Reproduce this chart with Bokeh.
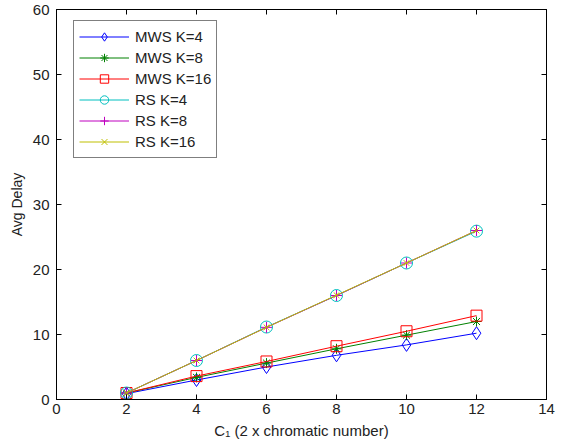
from bokeh.plotting import figure
from bokeh.models import LinearAxis, Range1d, FixedTicker, Legend, CustomJSTickFormatter
from bokeh.embed import file_html
from bokeh.resources import INLINE

# Data
x_vals = [2, 4, 6, 8, 10, 12]
mws_k4 = [0.9, 3.0, 5.0, 6.8, 8.4, 10.2]
mws_k8 = [1.0, 3.4, 5.6, 7.8, 9.9, 12.0]
mws_k16 = [1.0, 3.6, 5.85, 8.2, 10.5, 12.9]
rs_k4 = [1.0, 6.0, 11.15, 16.0, 21.0, 25.9]
rs_k8 = [1.0, 6.0, 11.1, 16.0, 21.0, 26.0]
rs_k16 = [1.0, 6.0, 11.1, 16.05, 21.0, 26.0]

series = [
    ("MWS K=4", mws_k4, "#0000ff", "diamond", 13),
    ("MWS K=8", mws_k8, "#008000", "asterisk", 10),
    ("MWS K=16", mws_k16, "#ff0000", "square", 11),
    ("RS K=4", rs_k4, "#00bfbf", "circle", 12),
    ("RS K=8", rs_k8, "#bf00bf", "cross", 11),
    ("RS K=16", rs_k16, "#bfbf00", "x", 8),
]
x_ticks = [0, 2, 4, 6, 8, 10, 12, 14]
y_ticks = [0, 10, 20, 30, 40, 50, 60]

FONT = "Liberation Sans"

p = figure(width=570, height=443, output_backend="svg", toolbar_location=None,
           x_range=Range1d(0, 14), y_range=Range1d(0, 60),
           min_border_left=56, min_border_right=24, min_border_top=9, min_border_bottom=44)
p.xgrid.visible = False
p.ygrid.visible = False
p.outline_line_color = "black"
p.outline_line_width = 1
p.background_fill_color = "white"
p.border_fill_color = "white"

for ax in p.xaxis:
    ax.ticker = FixedTicker(ticks=x_ticks)
    ax.axis_label = "C\u2081 (2 x chromatic number)"
    ax.axis_label_text_font_size = "15px"
    ax.major_label_standoff = 4
    ax.axis_label_standoff = 5
for ax in p.yaxis:
    ax.ticker = FixedTicker(ticks=y_ticks)
    ax.axis_label = "Avg Delay"
    ax.axis_label_text_font_size = "14px"
    ax.major_label_standoff = 7
    ax.axis_label_standoff = 5

for ax in list(p.xaxis) + list(p.yaxis):
    ax.major_tick_in = 5
    ax.major_tick_out = 0
    ax.minor_tick_in = 0
    ax.minor_tick_out = 0
    ax.axis_line_color = "black"
    ax.major_label_text_font = FONT
    ax.major_label_text_font_size = "15px"
    ax.major_label_text_color = "#222222"
    ax.axis_label_text_font = FONT
    ax.axis_label_text_font_style = "normal"
    ax.axis_label_text_color = "#222222"

blank = CustomJSTickFormatter(code="return '';")
top = LinearAxis(ticker=FixedTicker(ticks=x_ticks), formatter=blank,
                 major_tick_in=5, major_tick_out=0, minor_tick_in=0, minor_tick_out=0,
                 major_label_standoff=0)
right = LinearAxis(ticker=FixedTicker(ticks=y_ticks), formatter=blank,
                   major_tick_in=5, major_tick_out=0, minor_tick_in=0, minor_tick_out=0,
                   major_label_standoff=0)
p.add_layout(top, "above")
p.add_layout(right, "right")

items = []
for label, ys, color, marker, size in series:
    r1 = p.line(x_vals, ys, line_color=color, line_width=1)
    r2 = p.scatter(x_vals, ys, marker=marker, size=size, line_color=color,
                   fill_color=None, line_width=1)
    items.append((label, [r1, r2]))

legend = Legend(items=items, location=(17, 241))
legend.label_text_font = FONT
legend.label_text_font_size = "15px"
legend.label_text_color = "#222222"
legend.glyph_width = 50
legend.glyph_height = 21
legend.label_height = 21
legend.spacing = 0
legend.padding = 5
legend.margin = 0
legend.label_standoff = 6
legend.border_line_color = "black"
legend.border_line_width = 1
legend.background_fill_alpha = 1
p.add_layout(legend)

open("out.html", "w").write(file_html(p, INLINE))
